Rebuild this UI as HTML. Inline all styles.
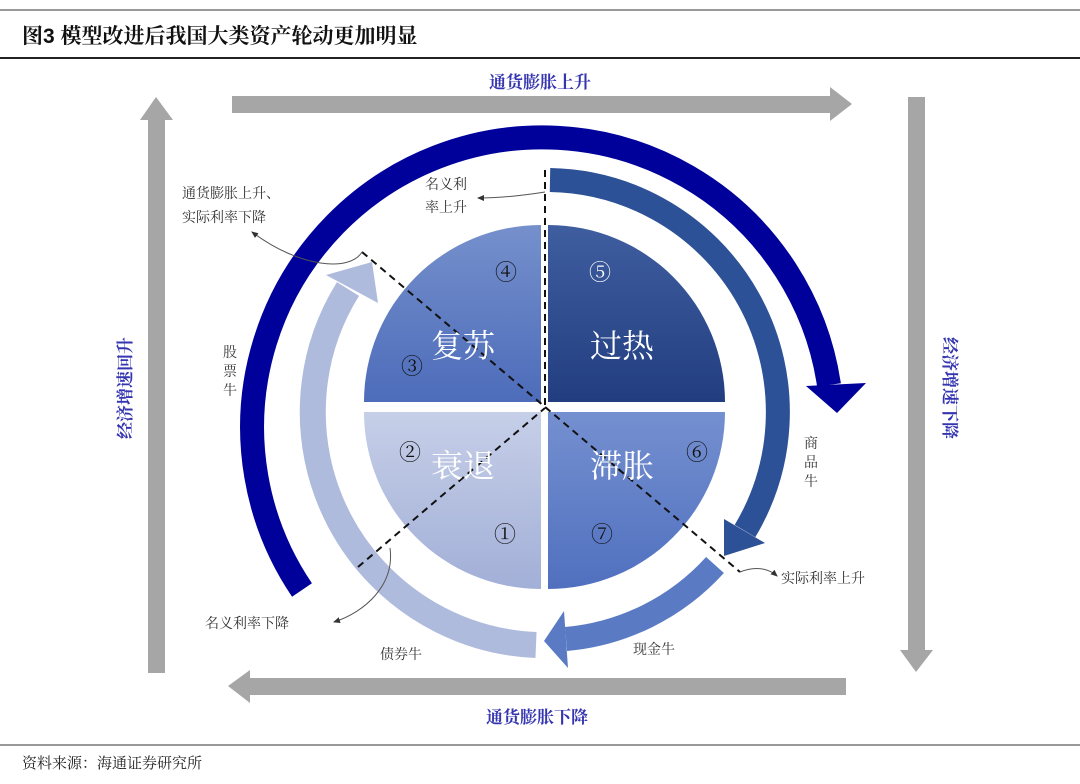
<!DOCTYPE html>
<html><head><meta charset="utf-8"><style>
html,body{margin:0;padding:0;background:#fff;width:1080px;height:784px;overflow:hidden}
text{font-family:"Liberation Serif","Noto Serif CJK SC",serif}
</style></head><body>
<svg width="1080" height="784" viewBox="0 0 1080 784" xmlns="http://www.w3.org/2000/svg">
<defs>
<linearGradient id="gTL" x1="0" y1="0" x2="0" y2="1"><stop offset="0" stop-color="#7590cc"/><stop offset="1" stop-color="#4d6cba"/></linearGradient>
<linearGradient id="gTR" x1="0" y1="0" x2="0" y2="1"><stop offset="0" stop-color="#3f5e9f"/><stop offset="1" stop-color="#223e80"/></linearGradient>
<linearGradient id="gBL" x1="0" y1="0" x2="0" y2="1"><stop offset="0" stop-color="#c6cfe8"/><stop offset="1" stop-color="#a2afd7"/></linearGradient>
<linearGradient id="gBR" x1="0" y1="0" x2="0" y2="1"><stop offset="0" stop-color="#7590d0"/><stop offset="1" stop-color="#5070bf"/></linearGradient>
<marker id="ah" markerWidth="8" markerHeight="8" refX="6" refY="3" orient="auto"><path d="M0,0 L7,3 L0,6 z" fill="#333"/></marker>
</defs>
<line x1="0" y1="10" x2="1080" y2="10" stroke="#333" stroke-width="1"/>
<text x="22" y="43" font-size="21" font-weight="bold" fill="#111" style='font-family:"Liberation Sans","Noto Serif CJK SC",serif'>图3  模型改进后我国大类资产轮动更加明显</text>
<line x1="0" y1="58" x2="1080" y2="58" stroke="#222" stroke-width="2"/>
<line x1="0" y1="745" x2="1080" y2="745" stroke="#333" stroke-width="1"/>
<text x="22" y="768" font-size="15" fill="#222">资料来源：海通证券研究所</text>

<g fill="#a6a6a6">
<rect x="232" y="96" width="600" height="17"/><polygon points="830,87 852,104 830,121"/>
<rect x="148" y="118" width="17" height="555"/><polygon points="140,120 156,97 173,120"/>
<rect x="908" y="97" width="17" height="555"/><polygon points="900,650 916,672 933,650"/>
<rect x="248" y="678" width="598" height="17"/><polygon points="250,670 228,686 250,703"/>
</g>
<text x="540" y="88" font-size="17" fill="#3535b0" text-anchor="middle" font-weight="bold">通货膨胀上升</text>
<text x="537" y="723" font-size="17" fill="#3535b0" text-anchor="middle" font-weight="bold">通货膨胀下降</text>
<text transform="translate(131,388) rotate(-90)" font-size="17" fill="#3535b0" text-anchor="middle" font-weight="bold">经济增速回升</text>
<text transform="translate(944,388) rotate(90)" font-size="17" fill="#3535b0" text-anchor="middle" font-weight="bold">经济增速下降</text>

<path d="M541,402 L364,402 A177,177 0 0 1 541,225 Z" fill="url(#gTL)"/>
<path d="M548,402 L548,225 A177,177 0 0 1 725,402 Z" fill="url(#gTR)"/>
<path d="M541,412 L541,589 A177,177 0 0 1 364,412 Z" fill="url(#gBL)"/>
<path d="M548,412 L725,412 A177,177 0 0 1 548,589 Z" fill="url(#gBR)"/>

<path d="M302,590 A290,290 0 1 1 829,385" fill="none" stroke="#00009a" stroke-width="24"/>
<polygon points="806,386 866,383 837,413" fill="#00009a"/>
<path d="M550,180 A232,232 0 0 1 745,531" fill="none" stroke="#2d5196" stroke-width="24"/>
<polygon points="724,519 765,543 724,556" fill="#2d5196"/>
<path d="M536,645 A233,233 0 0 1 348,289" fill="none" stroke="#aebbdd" stroke-width="26"/>
<polygon points="326,275 378,303 372,262" fill="#aebbdd"/>
<path d="M715,565 A228,228 0 0 1 566,639" fill="none" stroke="#5a7bc4" stroke-width="24"/>
<polygon points="568,668 564,611 544,641" fill="#5a7bc4"/>

<g stroke="#111" stroke-width="2" stroke-dasharray="7,5" fill="none">
<line x1="545" y1="170" x2="545" y2="408"/>
<line x1="362" y1="252" x2="740" y2="572"/>
<line x1="358" y1="567" x2="545" y2="408"/>
</g>
<g stroke="#555" stroke-width="1" fill="none" marker-end="url(#ah)">
<path d="M362,252 C350,272 300,268 252,232"/>
<path d="M545,192 C520,196 500,198 478,198"/>
<path d="M740,572 C755,566 768,568 777,576"/>
<path d="M390,548 C395,585 365,612 334,622"/>
</g>

<g font-size="32" fill="#fff" text-anchor="middle">
<text x="463" y="357">复苏</text>
<text x="622" y="357">过热</text>
<text x="463" y="477">衰退</text>
<text x="622" y="477">滞胀</text>
</g>
<g font-size="22" text-anchor="middle" fill="#111" style='font-family:"DejaVu Sans",sans-serif'>
<text x="506" y="280">④</text>
<text x="600" y="280" fill="#fff">⑤</text>
<text x="412" y="374">③</text>
<text x="410" y="460">②</text>
<text x="697" y="460">⑥</text>
<text x="505" y="542">①</text>
<text x="602" y="542">⑦</text>
</g>

<g font-size="14" fill="#333">
<text x="182" y="198">通货膨胀上升、</text>
<text x="182" y="222">实际利率下降</text>
<text x="425" y="189">名义利</text>
<text x="425" y="212">率上升</text>
<text x="223" y="357">股</text><text x="223" y="376">票</text><text x="223" y="395">牛</text>
<text x="804" y="448">商</text><text x="804" y="467">品</text><text x="804" y="486">牛</text>
<text x="781" y="583">实际利率上升</text>
<text x="205" y="628">名义利率下降</text>
<text x="380" y="659">债券牛</text>
<text x="633" y="654">现金牛</text>
</g>
</svg>
</body></html>
